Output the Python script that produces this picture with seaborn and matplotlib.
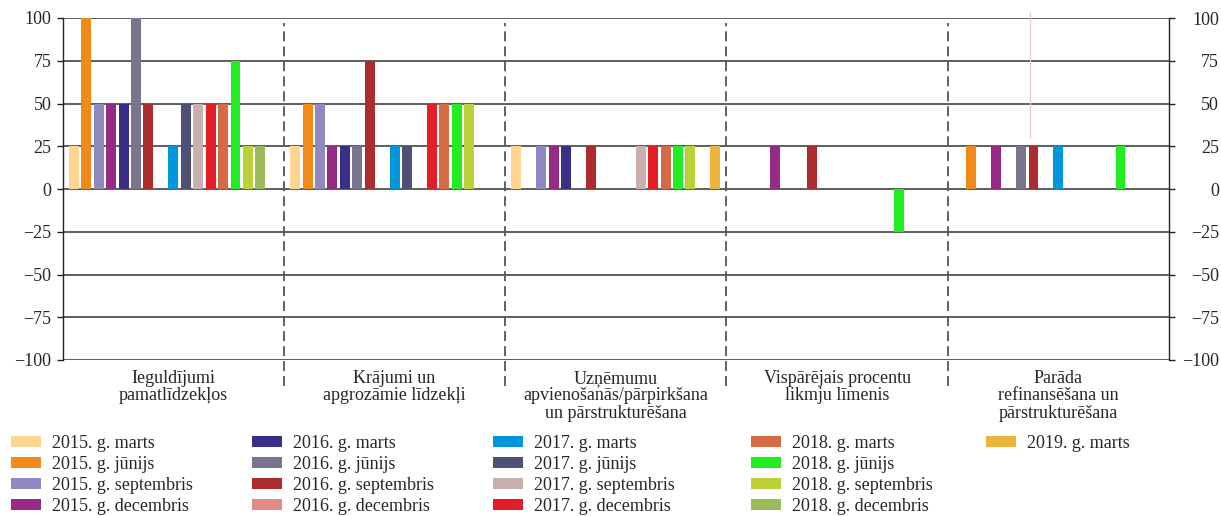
import matplotlib
matplotlib.use("Agg")
import matplotlib.pyplot as plt
from matplotlib.lines import Line2D
import numpy as np
import pandas as pd
import seaborn as sns

# categories (x axis groups)
categories = [
    "Ieguldījumi\npamatlīdzekļos",
    "Krājumi un\napgrozāmie līdzekļi",
    "Uzņēmumu\napvienošanās/pārpirkšana\nun pārstrukturēšana",
    "Vispārējais procentu\nlikmju līmenis",
    "Parāda\nrefinansēšana un\npārstrukturēšana",
]

# survey rounds (hue)
series = [
    "2015. g. marts", "2015. g. jūnijs", "2015. g. septembris", "2015. g. decembris",
    "2016. g. marts", "2016. g. jūnijs", "2016. g. septembris", "2016. g. decembris",
    "2017. g. marts", "2017. g. jūnijs", "2017. g. septembris", "2017. g. decembris",
    "2018. g. marts", "2018. g. jūnijs", "2018. g. septembris", "2018. g. decembris",
    "2019. g. marts",
]

colors = [
    "#FDD490", "#F18A17", "#9089C1", "#962A85",
    "#383086", "#7A758E", "#AD2D2F", "#E38A87",
    "#0096DC", "#4E5078", "#C9B0AE", "#E31E26",
    "#D66A44", "#22EC22", "#BCD037", "#9CBA59",
    "#ECB43A",
]

# values per category, one entry per survey round (NaN = no bar)
nan = np.nan
investment = [25, 100, 50, 50, 50, 100, 50, nan, 25, 50, 50, 50, 50, 75, 25, 25, nan]
inventories = [25, 50, 50, 25, 25, 25, 75, nan, 25, 25, nan, 50, 50, 50, 50, nan, nan]
mergers = [25, nan, 25, 25, 25, nan, 25, nan, nan, nan, 25, 25, 25, 25, 25, nan, 25]
interest = [nan, nan, nan, 25, nan, nan, 25, nan, nan, nan, nan, nan, nan, -25, nan, nan, nan]
refinancing = [nan, 25, nan, 25, nan, 25, 25, nan, 25, nan, nan, nan, nan, 25, nan, nan, nan]

yticks = [-100, -75, -50, -25, 0, 25, 50, 75, 100]

# long-form table for seaborn
rows = []
for cat, vals in zip(categories, [investment, inventories, mergers, interest, refinancing]):
    for s, v in zip(series, vals):
        rows.append({"category": cat, "series": s, "value": v})
df = pd.DataFrame(rows).dropna()

sns.set_theme(style="white")
plt.rcParams["font.family"] = ["Liberation Serif", "DejaVu Serif"]
plt.rcParams["axes.unicode_minus"] = True

W, H = 1221, 516
fig = plt.figure(figsize=(W / 100, H / 100), dpi=100)
ax = fig.add_axes([62.7 / W, 1 - 360 / H, (1169 - 62.7) / W, 342 / H])

sns.barplot(data=df, x="category", y="value", hue="series",
            order=categories, hue_order=series, palette=colors,
            saturation=1, width=0.955, gap=0.2, errorbar=None, linewidth=0,
            ax=ax, legend=True)

handles, labels = ax.get_legend_handles_labels()
ax.get_legend().remove()

ax.set_xlim(-0.5, 4.5)
ax.set_ylim(-100, 100)
ax.set_yticks(yticks)
ax.set_xlabel("")
ax.set_ylabel("")

# horizontal gridlines
for y in yticks:
    ax.axhline(y, color="#333333", lw=1.1, zorder=0)

for side in ["top", "bottom"]:
    ax.spines[side].set_visible(False)
for side in ["left", "right"]:
    ax.spines[side].set_color("#222222")
    ax.spines[side].set_linewidth(1.0)

ax.set_xticks(range(len(categories)))
ax.set_xticklabels(categories, fontsize=13, linespacing=1.05)
ax.tick_params(axis="x", length=0, pad=7)
ax.tick_params(axis="y", left=True, length=4, width=1, color="#222222",
               labelsize=13, pad=4, direction="out")

# right axis labels, right aligned
ax2 = ax.twinx()
ax2.set_ylim(-100, 100)
ax2.set_yticks(yticks)
ax2.set_yticklabels([f"{t}".replace("-", "\u2212") for t in yticks], ha="right")
ax2.tick_params(axis="y", right=True, length=4, width=1, color="#222222",
                labelsize=13, pad=32, direction="out")
for side in ["top", "bottom", "left", "right"]:
    ax2.spines[side].set_visible(False)
ax2.grid(False)

# dashed separators between categories
for x in [0.5, 1.5, 2.5, 3.5]:
    ax.axvline(x, ymin=-0.076, ymax=0.985, clip_on=False, color="#555555",
               lw=1.3, ls=(0, (5.5, 2.8)), zorder=1)

# faint stray line seen in the original image
fig.add_artist(Line2D([1030 / W, 1030 / W], [1 - 12 / H, 1 - 138 / H],
                      transform=fig.transFigure, color="#f2c4c4", lw=0.8))

# legend, one block per column
col_x = [11, 252, 493, 751, 986]
for i, x in enumerate(col_x):
    h = handles[i * 4:(i + 1) * 4]
    l = labels[i * 4:(i + 1) * 4]
    fig.legend(h, l, loc="upper left", bbox_to_anchor=(x / W, 1 - 435 / H),
               frameon=False, fontsize=13, borderpad=0, borderaxespad=0,
               handlelength=1.66, handleheight=0.5, handletextpad=0.61,
               labelspacing=0.22)

fig.canvas.draw()
for tick in ax2.yaxis.get_major_ticks():
    tick.label2.set_horizontalalignment("right")

fig.savefig("out.png", dpi=100)
